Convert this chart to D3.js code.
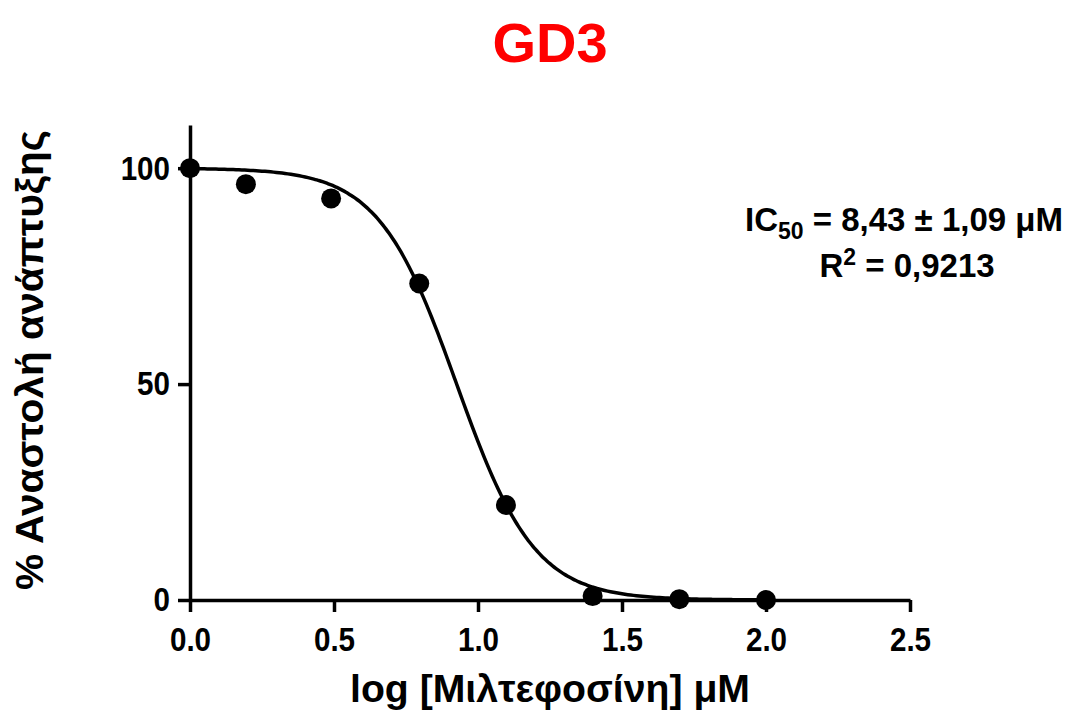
<!DOCTYPE html>
<html>
<head>
<meta charset="utf-8">
<script src="https://cdn.jsdelivr.net/npm/d3@7"></script>
<style>
  body { margin: 0; background: #fff; }
  text { font-family: "Liberation Sans", Arial, sans-serif; font-weight: bold; }
</style>
</head>
<body>
<div id="chart"></div>
<script>
// log concentration (μM) and % inhibition
const logConc = [0, 0.194, 0.49, 0.796, 1.097, 1.398, 1.699, 2.0];
const inhibition = [100, 96.3, 93.0, 73.3, 22.0, 0.9, 0.2, 0.0];

// fitted dose-response parameters (IC50 = 8,43 μM)
const fitTop = 100;
const fitBottom = 0;
const fitLogIC50 = Math.log10(8.43);
const fitHill = 3.2;

const xTicks = [0, 0.5, 1.0, 1.5, 2.0, 2.5];
const yTicks = [0, 50, 100];

const width = 1077, height = 715;
const margin = { top: 125, right: 167, bottom: 115, left: 190 };
const innerW = width - margin.left - margin.right;
const innerH = height - margin.top - margin.bottom;

const svg = d3.select("#chart").append("svg")
    .attr("width", width)
    .attr("height", height);

const g = svg.append("g")
    .attr("transform", `translate(${margin.left},${margin.top})`);

const x = d3.scaleLinear().domain([0, 2.5]).range([0, innerW]);
const y = d3.scaleLinear().domain([0, 110]).range([innerH, 0]);

// tick labels are a bit condensed in the original
const squeeze = 0.87;

// axes
const xAxis = g.append("g")
    .attr("transform", `translate(0,${innerH})`)
    .call(d3.axisBottom(x).tickValues(xTicks).tickFormat(d3.format(".1f")).tickSize(12).tickSizeOuter(0).tickPadding(15));

const yAxis = g.append("g")
    .call(d3.axisLeft(y).tickValues(yTicks).tickSize(12).tickSizeOuter(0).tickPadding(8));

[xAxis, yAxis].forEach(ax => {
    ax.select(".domain").attr("stroke", "#000").attr("stroke-width", 3.5);
    ax.selectAll(".tick line").attr("stroke", "#000").attr("stroke-width", 3.5);
    ax.selectAll(".tick text")
        .attr("fill", "#000")
        .style("font-size", "34px")
        .attr("transform", `scale(${squeeze},1)`);
});
yAxis.selectAll(".tick text").attr("x", -20 / squeeze);

// fitted curve
const curveX = d3.range(0, 2.0001, 0.01);
const model = v => fitBottom + (fitTop - fitBottom) / (1 + Math.pow(10, (v - fitLogIC50) * fitHill));

g.append("path")
    .datum(curveX)
    .attr("fill", "none")
    .attr("stroke", "#000")
    .attr("stroke-width", 3.5)
    .attr("d", d3.line().x(d => x(d)).y(d => y(model(d))).curve(d3.curveMonotoneX));

// data points
g.selectAll(".pt")
    .data(logConc)
    .enter()
    .append("circle")
    .attr("class", "pt")
    .attr("cx", d => x(d))
    .attr("cy", (d, i) => y(inhibition[i]))
    .attr("r", 10)
    .attr("fill", "#000");

// title
svg.append("text")
    .attr("x", 550)
    .attr("y", 62)
    .attr("text-anchor", "middle")
    .attr("fill", "#ff0000")
    .style("font-size", "56px")
    .text("GD3");

// axis labels
svg.append("text")
    .attr("x", 550)
    .attr("y", 702)
    .attr("text-anchor", "middle")
    .attr("fill", "#000")
    .style("font-size", "38px")
    .attr("textLength", 400)
    .attr("lengthAdjust", "spacingAndGlyphs")
    .text("log [Μιλτεφοσίνη] μM");

svg.append("text")
    .attr("transform", `translate(43,360) rotate(-90)`)
    .attr("text-anchor", "middle")
    .attr("fill", "#000")
    .style("font-size", "38px")
    .attr("textLength", 460)
    .attr("lengthAdjust", "spacingAndGlyphs")
    .text("% Αναστολή ανάπτυξης");

// fit annotation
const ann = svg.append("g").attr("fill", "#000").style("font-size", "33px");
const line1 = ann.append("text").attr("x", 904).attr("y", 231).attr("text-anchor", "middle");
line1.append("tspan").text("IC");
line1.append("tspan").attr("dy", 8).style("font-size", "23px").text("50");
line1.append("tspan").attr("dy", -8).text(" = 8,43 ± 1,09 μM");

const line2 = ann.append("text").attr("x", 907).attr("y", 277).attr("text-anchor", "middle");
line2.append("tspan").text("R");
line2.append("tspan").attr("dy", -12).style("font-size", "23px").text("2");
line2.append("tspan").attr("dy", 12).text(" = 0,9213");
</script>
</body>
</html>
